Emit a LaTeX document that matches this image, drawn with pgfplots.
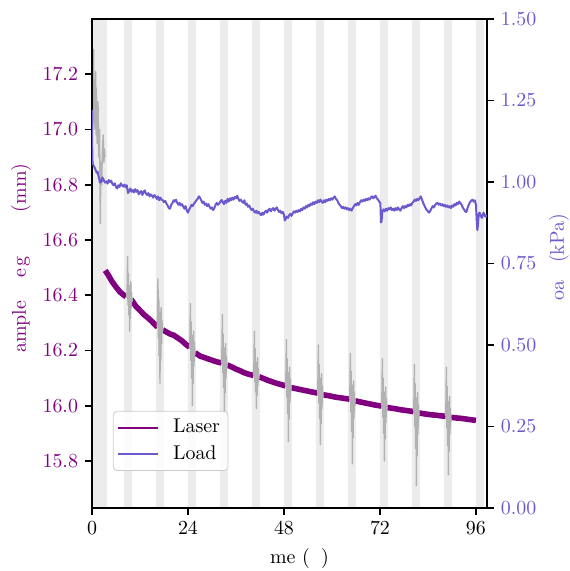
\documentclass[border=0pt]{standalone}
\usepackage{pgfplots}
\pgfplotsset{compat=1.18}
\definecolor{laser}{RGB}{128,0,128}
\definecolor{load}{RGB}{106,90,205}
\definecolor{band}{RGB}{236,236,236}
\definecolor{raw}{RGB}{178,178,178}

\pgfplotsset{
  twin/.style={
    scale only axis, width=198.2pt, height=245.4pt,
    xmin=0, xmax=98.75,
    tick align=outside, major tick length=3.5pt,
    every tick/.style={black, line width=0.8pt},
    axis line style={line width=0.8pt},
    unbounded coords=jump,
  }
}

\begin{document}
\begin{tikzpicture}
\begin{axis}[twin, axis on top,
  ymin=15.63, ymax=17.4,
  xtick={0,24,48,72,96}, xtick pos=bottom, ytick pos=left,
  ytick={15.8,16,16.2,16.4,16.6,16.8,17,17.2},
  yticklabel style={color=laser, /pgf/number format/fixed,
    /pgf/number format/precision=1, /pgf/number format/fixed zerofill},
  xlabel={\phantom{Ti}me (\phantom{h})},
  xlabel style={at={(axis description cs:0.5,-0.104)}, anchor=center},
  ylabel={\hspace{5.5pt}ample\hspace{11.5pt}e\hspace{1pt}g\hspace{22.5pt}(mm)},
  ylabel style={color=laser, at={(axis description cs:-0.18,0.5)}, anchor=center, rotate=0},
]
% light periods
\addplot[fill=band, draw=none] coordinates {
(0,15.5)(0,17.5)(3.8,17.5)(3.8,15.5)
(8,15.5)(8,17.5)(10,17.5)(10,15.5)
(16,15.5)(16,17.5)(18,17.5)(18,15.5)
(24,15.5)(24,17.5)(26,17.5)(26,15.5)
(32,15.5)(32,17.5)(34,17.5)(34,15.5)
(40,15.5)(40,17.5)(42,17.5)(42,15.5)
(48,15.5)(48,17.5)(50,17.5)(50,15.5)
(56,15.5)(56,17.5)(58,17.5)(58,15.5)
(64,15.5)(64,17.5)(66,17.5)(66,15.5)
(72,15.5)(72,17.5)(74,17.5)(74,15.5)
(80,15.5)(80,17.5)(82,17.5)(82,15.5)
(88,15.5)(88,17.5)(90,17.5)(90,15.5)
(96,15.5)(96,17.5)(98,17.5)(98,15.5)
};
% laser
\addplot[laser, line width=2.8pt] coordinates {
(3.3,16.49)(4,16.475)(5,16.45)(6,16.43)(7,16.412)(8,16.40)(8.5,16.395)(8.6,nan)
(9.8,16.385)(11,16.36)(12,16.345)(13,16.33)(14,16.318)(15,16.305)(16,16.29)(16.4,16.285)(16.5,nan)
(17.7,16.275)(18.5,16.268)(19.5,16.26)(20.5,16.255)(21.5,16.245)(22.5,16.235)(23.5,16.222)(24.4,16.212)(24.5,nan)
(25.8,16.192)(27,16.18)(28,16.175)(29,16.17)(30,16.165)(31,16.16)(32.4,16.155)(32.5,nan)
(33.8,16.148)(35,16.14)(36,16.133)(37,16.127)(38,16.12)(39,16.115)(40.4,16.11)(40.5,nan)
(41.8,16.105)(43,16.098)(44,16.092)(45,16.087)(46,16.082)(47,16.078)(48.4,16.072)(48.5,nan)
(49.8,16.066)(51,16.062)(52,16.059)(53,16.056)(54,16.053)(55,16.05)(56.4,16.046)(56.5,nan)
(57.8,16.04)(59,16.037)(60,16.034)(61,16.031)(62,16.029)(63,16.027)(64.4,16.024)(64.5,nan)
(65.8,16.018)(67,16.014)(68,16.011)(69,16.008)(70,16.005)(71,16.002)(72.4,15.999)(72.5,nan)
(73.8,15.994)(75,15.991)(76,15.989)(77,15.986)(78,15.984)(79,15.982)(80.4,15.979)(80.5,nan)
(81.8,15.974)(83,15.971)(84,15.969)(85,15.967)(86,15.966)(87,15.964)(88.4,15.962)(88.5,nan)
(89.8,15.958)(91,15.956)(92,15.955)(93,15.953)(94,15.951)(95,15.949)(96,15.947)
};
% laser, disturbed readings
\addplot[raw, line width=0.7pt, line join=round] coordinates {
(0.3,17.05)(0.4,17.29)(0.5,17.0)(0.6,17.18)(0.7,17.02)(0.9,17.21)(1.0,16.98)(1.1,17.15)(1.3,16.95)(1.5,17.1)
(1.7,16.9)(1.9,17.0)(2.1,16.66)(2.2,16.88)(2.4,16.8)(2.6,16.92)(2.8,16.98)(3.0,16.88)(3.1,16.93)(3.25,16.9)(3.3,nan)
(8.7,16.39)(8.8,16.435)(8.9,16.54)(9.0,16.366)(9.1,16.48)(9.2,16.33)(9.3,16.435)(9.4,16.27)(9.5,16.42)(9.6,16.318)(9.7,16.45)(9.8,16.354)(9.9,16.41)(10.0,16.378)(10.1,16.385)(10.2,nan)
(16.3,16.285)(16.4,16.34)(16.5,16.46)(16.6,16.244)(16.7,16.39)(16.8,16.18)(16.9,16.34)(17.0,16.08)(17.1,16.32)(17.2,16.162)(17.3,16.355)(17.4,16.224)(17.5,16.31)(17.6,16.265)(17.7,16.28)(17.8,nan)
(24.4,16.205)(24.5,16.255)(24.6,16.37)(24.7,16.164)(24.8,16.304)(24.9,16.10)(25.0,16.255)(25.1,16.0)(25.2,16.238)(25.3,16.082)(25.4,16.27)(25.5,16.144)(25.6,16.23)(25.7,16.185)(25.8,16.20)(25.9,nan)
(32.4,16.155)(32.5,16.21)(32.6,16.33)(32.7,16.12)(32.8,16.26)(32.9,16.065)(33.0,16.21)(33.1,15.976)(33.2,16.19)(33.3,16.047)(33.4,16.225)(33.5,16.10)(33.6,16.18)(33.7,16.137)(33.8,16.15)(33.9,nan)
(40.4,16.11)(40.5,16.16)(40.6,16.27)(40.7,16.086)(40.8,16.206)(40.9,16.05)(41.0,16.158)(41.1,15.99)(41.2,16.142)(41.3,16.038)(41.4,16.174)(41.5,16.074)(41.6,16.134)(41.7,16.098)(41.8,16.105)(41.9,nan)
(48.4,16.072)(48.5,16.12)(48.6,16.24)(48.7,16.032)(48.8,16.17)(48.9,15.972)(49.0,16.12)(49.1,15.87)(49.2,16.105)(49.3,15.952)(49.4,16.14)(49.5,16.012)(49.6,16.097)(49.7,16.052)(49.8,16.068)(49.9,nan)
(56.4,16.047)(56.5,16.10)(56.6,16.22)(56.7,16.01)(56.8,16.15)(56.9,15.953)(57.0,16.10)(57.1,15.86)(57.2,16.082)(57.3,15.935)(57.4,16.116)(57.5,15.99)(57.6,16.073)(57.7,16.028)(57.8,16.04)(57.9,nan)
(64.4,16.025)(64.5,16.075)(64.6,16.19)(64.7,15.978)(64.8,16.124)(64.9,15.908)(65.0,16.075)(65.1,15.79)(65.2,16.058)(65.3,15.884)(65.4,16.09)(65.5,15.955)(65.6,16.05)(65.7,16.0)(65.8,16.02)(65.9,nan)
(72.4,16.0)(72.5,16.05)(72.6,16.17)(72.7,15.96)(72.8,16.10)(72.9,15.90)(73.0,16.05)(73.1,15.80)(73.2,16.034)(73.3,15.88)(73.4,16.068)(73.5,15.94)(73.6,16.026)(73.7,15.98)(73.8,15.995)(73.9,nan)
(80.4,15.98)(80.5,16.03)(80.6,16.15)(80.7,15.926)(80.8,16.08)(80.9,15.845)(81.0,16.03)(81.1,15.71)(81.2,16.014)(81.3,15.818)(81.4,16.048)(81.5,15.899)(81.6,16.006)(81.7,15.953)(81.8,15.975)(81.9,nan)
(88.4,15.963)(88.5,16.016)(88.6,16.14)(88.7,15.92)(88.8,16.07)(88.9,15.856)(89.0,16.016)(89.1,15.75)(89.2,15.998)(89.3,15.835)(89.4,16.034)(89.5,15.899)(89.6,15.99)(89.7,15.94)(89.8,15.955)
};
\coordinate (sw) at (rel axis cs:0,0);
\coordinate (ne) at (rel axis cs:1,1);
\end{axis}

\begin{axis}[twin,
  ymin=0, ymax=1.5,
  hide x axis, axis y line*=right, y axis line style={-},
  ytick={0,0.25,0.5,0.75,1,1.25,1.5},
  yticklabel style={color=load, /pgf/number format/fixed,
    /pgf/number format/precision=2, /pgf/number format/fixed zerofill},
  ylabel={\phantom{L}oa\phantom{d} (kPa)},
  ylabel style={color=load, at={(axis description cs:1.182,0.5)}, anchor=center, rotate=0},
  legend style={at={(0.053,0.0757)}, anchor=south west, draw=black!20,
    rounded corners=2pt, fill=white, fill opacity=0.8, text opacity=1,
    inner xsep=2pt, inner ysep=2pt, row sep=1pt,
    /tikz/every odd column/.append style={column sep=5pt}},
  legend cell align=left,
  legend image code/.code={\draw[#1] (0pt,0pt) -- (20pt,0pt);},
]
\addlegendimage{laser, line width=1pt}
\addlegendentry{Laser}
\addplot[load, line width=1pt, line join=round] coordinates {
(0,1.221)(0.05,1.12)(0.1,1.07)(0.2,1.055)(0.4,1.05)(0.6,1.046)(0.8,1.04)(1.0,1.034)(1.2,1.028)(1.4,1.032)
(1.6,1.02)(1.8,1.01)(2.0,0.998)(2.2,1.006)(2.4,1.0)(2.6,1.014)(2.8,1.01)(3.0,1.004)(3.3,0.998)(3.6,1.002)
(3.9,0.995)(4.2,1.006)(4.5,1.0)(4.8,1.004)(5.1,0.994)(5.4,0.99)(5.7,0.996)(6.0,0.985)(6.3,0.98)(6.6,0.99)
(6.9,0.985)(7.2,0.996)(7.5,0.99)(7.8,0.986)(8.1,0.992)(8.4,0.984)(8.7,0.99)(9.0,0.966)(9.3,0.972)(9.6,0.98)
(9.9,0.97)(10.2,0.975)(10.5,0.968)(10.8,0.978)(11.1,0.97)(11.4,0.975)(11.7,0.962)(12.0,0.968)(12.3,0.972)(12.6,0.96)
(12.9,0.97)(13.2,0.974)(13.5,0.964)(13.8,0.96)(14.1,0.966)(14.4,0.956)(14.7,0.962)(15.0,0.958)(15.3,0.952)(15.6,0.96)
(15.9,0.955)(16.2,0.948)(16.5,0.956)(16.8,0.944)(17.1,0.952)(17.4,0.946)(17.7,0.944)(18.0,0.938)(18.3,0.942)(18.6,0.934)
(18.9,0.928)(19.2,0.92)(19.5,0.918)(19.8,0.93)(20.1,0.935)(20.4,0.944)(20.7,0.94)(21.0,0.946)(21.3,0.936)(21.6,0.93)
(21.9,0.936)(22.2,0.928)(22.5,0.932)(22.8,0.925)(23.1,0.918)(23.4,0.926)(23.7,0.912)(24.0,0.906)(24.3,0.916)(24.6,0.922)
(24.9,0.93)(25.2,0.926)(25.5,0.934)(25.8,0.938)(26.1,0.944)(26.4,0.948)(26.7,0.956)(27.0,0.952)(27.3,0.944)(27.6,0.936)
(27.9,0.94)(28.2,0.93)(28.5,0.934)(28.8,0.926)(29.1,0.932)(29.4,0.924)(29.7,0.918)(30.0,0.922)(30.3,0.914)(30.6,0.92)
(30.9,0.93)(31.2,0.936)(31.5,0.93)(31.8,0.934)(32.1,0.94)(32.4,0.945)(32.7,0.938)(33.0,0.932)(33.3,0.942)(33.6,0.936)
(33.9,0.948)(34.2,0.94)(34.5,0.95)(34.8,0.944)(35.1,0.952)(35.4,0.946)(35.7,0.954)(36.0,0.95)(36.3,0.958)(36.6,0.948)
(36.9,0.942)(37.2,0.946)(37.5,0.94)(37.8,0.936)(38.1,0.944)(38.4,0.93)(38.7,0.934)(39.0,0.924)(39.3,0.928)(39.6,0.92)
(39.9,0.914)(40.2,0.918)(40.5,0.91)(40.8,0.906)(41.1,0.912)(41.4,0.904)(41.7,0.908)(42.0,0.902)(42.3,0.898)(42.6,0.906)
(42.9,0.9)(43.2,0.908)(43.5,0.912)(43.8,0.906)(44.1,0.914)(44.4,0.918)(44.7,0.91)(45.0,0.916)(45.3,0.92)(45.6,0.912)
(45.9,0.918)(46.2,0.922)(46.5,0.914)(46.8,0.908)(47.1,0.912)(47.4,0.904)(47.7,0.908)(48.0,0.9)(48.2,0.882)(48.4,0.886)
(48.7,0.894)(49.0,0.89)(49.3,0.898)(49.6,0.902)(49.9,0.896)(50.2,0.904)(50.5,0.91)(50.8,0.906)(51.1,0.912)(51.4,0.908)
(51.7,0.914)(52.0,0.91)(52.3,0.918)(52.6,0.914)(52.9,0.922)(53.2,0.918)(53.5,0.926)(53.8,0.922)(54.1,0.93)(54.4,0.926)
(54.7,0.934)(55.0,0.93)(55.3,0.938)(55.6,0.932)(55.9,0.94)(56.2,0.936)(56.5,0.944)(56.8,0.938)(57.1,0.946)(57.4,0.94)
(57.7,0.936)(58.0,0.944)(58.3,0.938)(58.6,0.946)(58.9,0.942)(59.2,0.948)(59.5,0.944)(59.8,0.95)(60.1,0.946)(60.4,0.952)
(60.7,0.956)(61.0,0.948)(61.3,0.944)(61.6,0.936)(61.9,0.93)(62.2,0.926)(62.5,0.92)(62.8,0.924)(63.1,0.918)(63.4,0.922)
(63.7,0.916)(64.0,0.92)(64.3,0.914)(64.6,0.918)(64.9,0.912)(65.2,0.92)(65.5,0.926)(65.8,0.932)(66.1,0.928)(66.4,0.936)
(66.7,0.93)(67.0,0.938)(67.3,0.944)(67.6,0.94)(67.9,0.946)(68.2,0.942)(68.5,0.948)(68.8,0.944)(69.1,0.95)(69.4,0.946)
(69.7,0.952)(70.0,0.956)(70.3,0.95)(70.6,0.954)(70.9,0.958)(71.2,0.95)(71.5,0.946)(71.8,0.94)(72.1,0.936)(72.25,0.876)
(72.4,0.88)(72.6,0.91)(72.9,0.916)(73.2,0.91)(73.5,0.918)(73.8,0.912)(74.1,0.92)(74.4,0.916)(74.7,0.922)(75.0,0.914)
(75.3,0.918)(75.6,0.912)(75.9,0.92)(76.2,0.914)(76.5,0.922)(76.8,0.916)(77.1,0.912)(77.4,0.92)(77.7,0.926)(78.0,0.92)
(78.3,0.926)(78.6,0.922)(78.9,0.93)(79.2,0.926)(79.5,0.932)(79.8,0.928)(80.1,0.936)(80.4,0.94)(80.7,0.946)(81.0,0.942)
(81.3,0.948)(81.6,0.944)(81.9,0.95)(82.2,0.956)(82.5,0.946)(82.8,0.936)(83.1,0.928)(83.4,0.92)(83.7,0.914)(84.0,0.91)
(84.3,0.906)(84.6,0.912)(84.9,0.92)(85.2,0.926)(85.5,0.922)(85.8,0.93)(86.1,0.934)(86.4,0.936)(86.7,0.93)(87.0,0.934)
(87.3,0.928)(87.6,0.932)(87.9,0.926)(88.2,0.93)(88.5,0.924)(88.8,0.928)(89.1,0.922)(89.4,0.926)(89.7,0.92)(90.0,0.928)
(90.3,0.924)(90.6,0.932)(90.9,0.928)(91.2,0.936)(91.5,0.932)(91.8,0.94)(92.1,0.936)(92.4,0.93)(92.7,0.922)(93.0,0.916)
(93.3,0.91)(93.6,0.908)(93.9,0.92)(94.2,0.93)(94.5,0.938)(94.8,0.942)(95.1,0.946)(95.4,0.94)(95.7,0.944)(96.0,0.93)
(96.2,0.88)(96.35,0.852)(96.5,0.87)(96.7,0.902)(96.9,0.906)(97.1,0.9)(97.3,0.894)(97.5,0.89)(97.7,0.898)(97.9,0.906)
(98.1,0.9)(98.3,0.894)(98.5,0.898)(98.75,0.892)
};
\addlegendentry{Load}
\end{axis}
\pgfresetboundingbox
\path ([shift={(-46.16pt,-31.61pt)}]sw) rectangle ([shift={(41.65pt,9.53pt)}]ne);
\end{tikzpicture}
\end{document}
